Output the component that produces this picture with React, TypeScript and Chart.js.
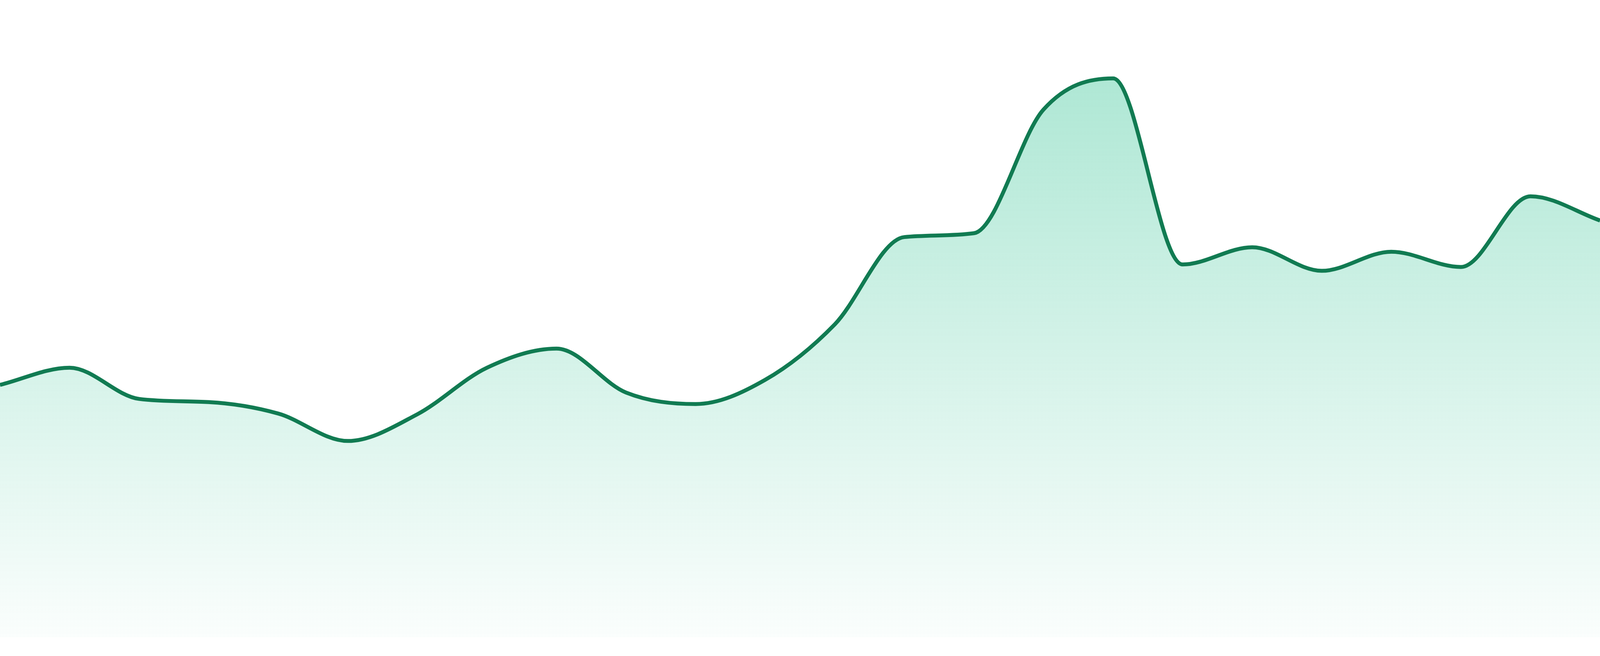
import React, { useEffect, useRef } from "react";
import { Chart, registerables } from "chart.js";

Chart.register(...registerables);

const labels: string[] = [
  "00:00", "01:00", "02:00", "03:00", "04:00", "05:00", "06:00", "07:00",
  "08:00", "09:00", "10:00", "11:00", "12:00", "13:00", "14:00", "15:00",
  "16:00", "17:00", "18:00", "19:00", "20:00", "21:00", "22:00", "23:00",
];

const values: number[] = [
  39.6, 42.3, 37.4, 36.9, 35.1, 30.8, 35.0, 42.3,
  45.3, 38.4, 36.6, 40.4, 49.1, 62.8, 63.4, 82.8,
  87.7, 58.5, 61.2, 57.5, 60.5, 58.1, 69.2, 65.4,
];

const yMin = 0;
const yMax = 100;

const lineColor = "#117B52";

export default function App() {
  const canvasRef = useRef<HTMLCanvasElement | null>(null);

  useEffect(() => {
    document.body.style.margin = "0";
    document.body.style.overflow = "hidden";
    document.documentElement.style.overflow = "hidden";
    const canvas = canvasRef.current;
    if (!canvas) return;
    const chart = new Chart(canvas, {
      type: "line",
      data: {
        labels,
        datasets: [
          {
            data: values,
            borderColor: lineColor,
            borderWidth: (ctx: any) => Math.max(1, (ctx.chart.height || 1680) * 10 / 1680),
            pointRadius: 0,
            pointHoverRadius: 0,
            cubicInterpolationMode: "monotone",
            fill: "origin",
            backgroundColor: (ctx: any) => {
              const { chart } = ctx;
              const area = chart.chartArea;
              if (!area) return "rgba(16,185,129,0.2)";
              const g = chart.ctx.createLinearGradient(0, area.top, 0, area.bottom);
              g.addColorStop(0, "rgba(16,185,129,0.38)");
              g.addColorStop(1, "rgba(16,185,129,0.02)");
              return g;
            },
          },
        ],
      },
      options: {
        animation: false,
        responsive: true,
        maintainAspectRatio: false,
        layout: {
          padding: (ctx: any) => ({
            left: 0,
            right: 0,
            top: 0,
            bottom: (ctx.chart.height || 1680) * 48 / 1680,
          }),
        },
        plugins: {
          legend: { display: false },
          tooltip: { enabled: false },
        },
        scales: {
          x: { display: false, offset: false },
          y: { display: false, min: yMin, max: yMax },
        },
      },
    });
    return () => chart.destroy();
  }, []);

  return (
    <div
      style={{
        position: "fixed",
        left: 0,
        top: 0,
        width: "100vw",
        height: "100vh",
      }}
    >
      <canvas ref={canvasRef} />
    </div>
  );
}
